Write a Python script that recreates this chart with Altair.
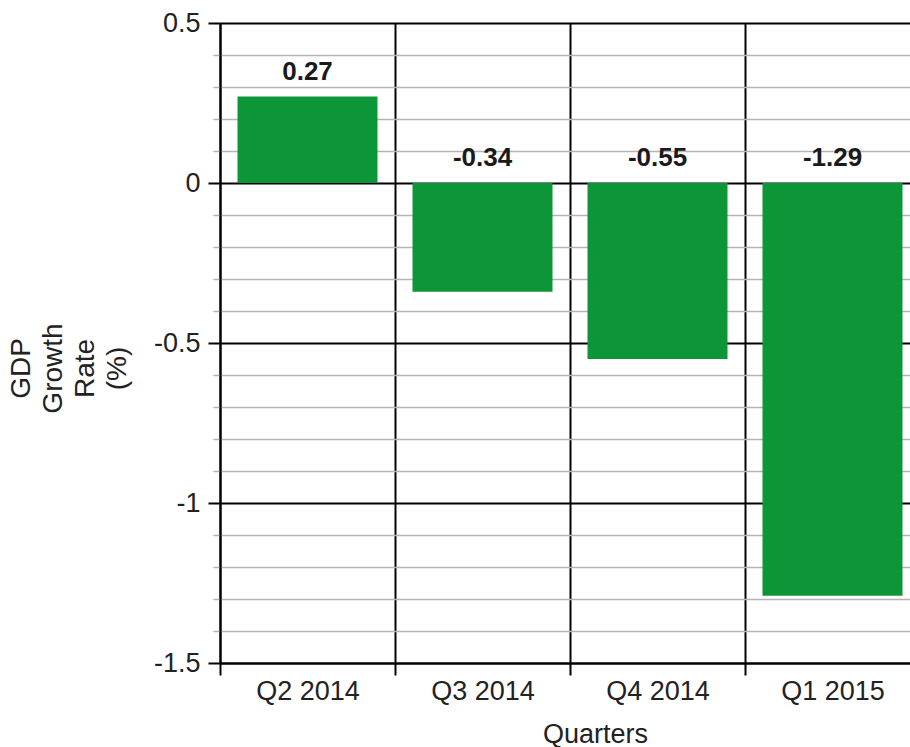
import altair as alt
import pandas as pd

# Quarterly GDP growth figures
quarters = ["Q2 2014", "Q3 2014", "Q4 2014", "Q1 2015"]
growth = [0.27, -0.34, -0.55, -1.29]

# Y gridlines every 0.1, with the 0.5 steps drawn heavier and labelled
y_ticks = [0.5, 0.4, 0.3, 0.2, 0.1, 0, -0.1, -0.2, -0.3, -0.4, -0.5,
           -0.6, -0.7, -0.8, -0.9, -1, -1.1, -1.2, -1.3, -1.4, -1.5]
major_ticks = [0.5, 0, -0.5, -1, -1.5]

df = pd.DataFrame({"quarter": quarters, "growth": growth})

FONT = "Liberation Sans"
major_test = "indexof(" + str(major_ticks) + ", datum.value) >= 0"

x_enc = alt.X(
    "quarter:N",
    sort=quarters,
    title="Quarters",
    scale=alt.Scale(range=[0, 700], paddingInner=0, paddingOuter=0),
    axis=alt.Axis(
        labelAngle=0,
        tickBand="extent",
        grid=True,
        gridColor="black",
        gridWidth=2,
        tickColor="black",
        tickWidth=2,
        tickSize=12,
        domainColor="black",
        domainWidth=2,
        labelFont=FONT,
        labelFontSize=27,
        labelColor="#222222",
        labelPadding=3,
        titleFont=FONT,
        titleFontSize=27,
        titleFontWeight="normal",
        titleColor="#222222",
        titleAlign="center",
        titleBaseline="alphabetic",
        titleX=375,
        titleY=79,
    ),
)

y_enc = alt.Y(
    "growth:Q",
    title=["GDP", "Growth", "Rate", "(%)"],
    scale=alt.Scale(domain=[-1.5, 0.5], nice=False, zero=False),
    axis=alt.Axis(
        values=y_ticks,
        tickCount=40,
        labelExpr=f"{major_test} ? toString(datum.value) : ''",
        grid=True,
        gridColor={"condition": {"test": major_test, "value": "black"}, "value": "#b4b4b4"},
        gridWidth={"condition": {"test": major_test, "value": 2}, "value": 1.5},
        tickColor={"condition": {"test": major_test, "value": "black"}, "value": "#b4b4b4"},
        tickWidth={"condition": {"test": major_test, "value": 2}, "value": 1.5},
        tickSize={"condition": {"test": major_test, "value": 12}, "value": 7},
        domainColor="black",
        domainWidth=2,
        labelFont=FONT,
        labelFontSize=27,
        labelColor="#222222",
        labelPadding=8,
        labelFlush=False,
        labelOverlap=False,
        titleFont=FONT,
        titleFontSize=28,
        titleFontWeight="normal",
        titleColor="#222222",
        titleAngle=270,
        titleAlign="center",
        titleBaseline="top",
        titleLineHeight=32,
        titleX=-213,
        titleY=345,
    ),
)

bars = alt.Chart(df).mark_bar(
    color="#0d9638", width=alt.RelativeBandSize(0.8)
).encode(x=x_enc, y=y_enc)

labels = alt.Chart(df).transform_calculate(
    label_pos="max(datum.growth, 0)",
    label_text="toString(datum.growth)",
).mark_text(
    font=FONT, fontSize=26, fontWeight="bold", color="#1a1a1a",
    baseline="alphabetic", dy=-17,
).encode(
    x=alt.X("quarter:N", sort=quarters),
    y=alt.Y("label_pos:Q"),
    text="label_text:N",
)

chart = alt.layer(bars, labels).properties(
    width=690,
    height=640,
    autosize=alt.AutoSizeParams(type="none"),
    padding={"left": 220, "top": 23, "right": 0, "bottom": 84},
    background="white",
).configure_view(stroke=None)

chart.save("out.html", embed_options={"renderer": "svg", "actions": False})
